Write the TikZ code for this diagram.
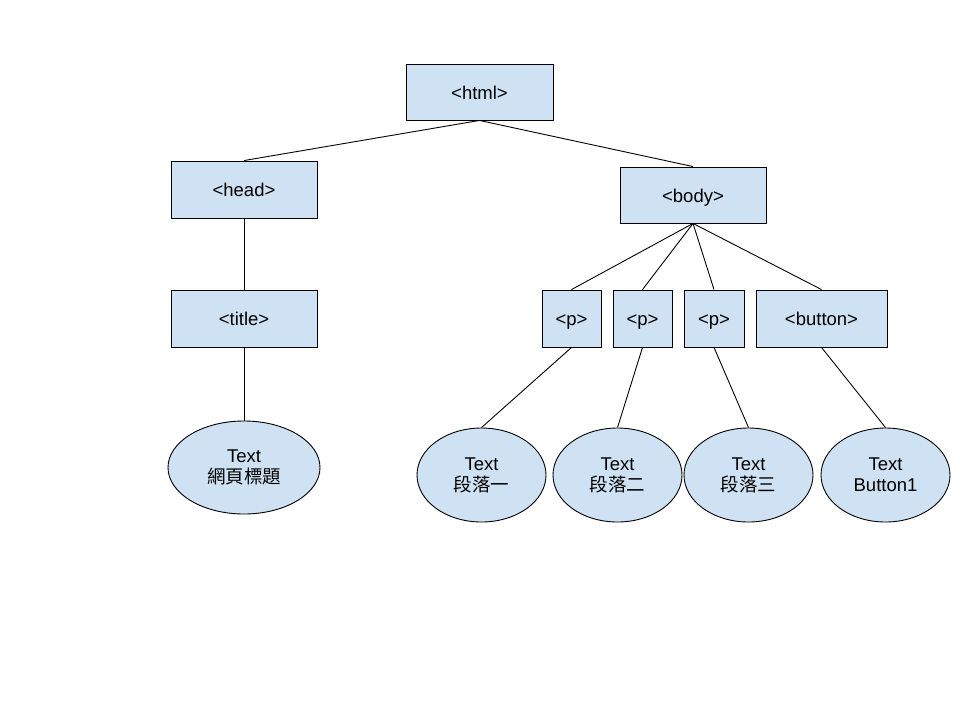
\documentclass[tikz,border=0pt]{standalone}
\usepackage{fontspec}
\setmainfont{Liberation Sans}
\newfontfamily\cjk{Noto Sans CJK TC}
\usetikzlibrary{shapes.geometric}
\definecolor{boxfill}{HTML}{CFE2F3}
\begin{document}
\begin{tikzpicture}[x=1pt,y=-1pt,
  tag/.style={draw=black,fill=boxfill,line width=0.9pt,minimum height=56pt,inner sep=0pt,text height=16pt,text depth=2pt,font=\fontsize{18.5}{21}\selectfont},
  leaf/.style={draw=black,fill=boxfill,ellipse,line width=0.9pt,inner sep=0pt,font=\fontsize{18.5}{21}\selectfont,align=center},
  link/.style={draw=black,line width=0.9pt}]
\useasboundingbox (0,0) rectangle (960,720);
\fill[white] (0,0) rectangle (960,720);
\node[tag,minimum width=147pt] (html) at (479.5,92) {<html>};
\node[tag,minimum width=146pt,minimum height=57pt] (head) at (244,189.5) {<head>};
\node[tag,minimum width=146pt] (body) at (693,195) {<body>};
\node[tag,minimum width=146pt,minimum height=57pt] (title) at (244,318.5) {<title>};
\node[tag,minimum width=59pt,minimum height=57pt] (p1) at (571.5,318.5) {<p>};
\node[tag,minimum width=59pt,minimum height=57pt] (p2) at (642.5,318.5) {<p>};
\node[tag,minimum width=60pt,minimum height=57pt] (p3) at (714,318.5) {<p>};
\node[tag,minimum width=131pt,minimum height=57pt] (btn) at (821.5,318.5) {<button>};
\node[leaf,minimum width=152pt,minimum height=93pt] (t0) at (244,467.5) {Text\\{\cjk 網頁標題}};
\node[leaf,minimum width=129pt,minimum height=94pt] (t1) at (481.5,475) {Text\\{\cjk 段落一}};
\node[leaf,minimum width=129pt,minimum height=94pt] (t2) at (617.5,475) {Text\\{\cjk 段落二}};
\node[leaf,minimum width=129pt,minimum height=94pt] (t3) at (748.5,475) {Text\\{\cjk 段落三}};
\node[leaf,minimum width=129pt,minimum height=94pt] (t4) at (885.5,475) {Text\\Button1};
\draw[link] (html.south) -- (head.north);
\draw[link] (html.south) -- (body.north);
\draw[link] (head.south) -- (title.north);
\draw[link] (title.south) -- (t0.north);
\draw[link] (body.south) -- (p1.north);
\draw[link] (body.south) -- (p2.north);
\draw[link] (body.south) -- (p3.north);
\draw[link] (body.south) -- (btn.north);
\draw[link] (p1.south) -- (t1.north);
\draw[link] (p2.south) -- (t2.north);
\draw[link] (p3.south) -- (t3.north);
\draw[link] (btn.south) -- (t4.north);
\end{tikzpicture}
\end{document}
